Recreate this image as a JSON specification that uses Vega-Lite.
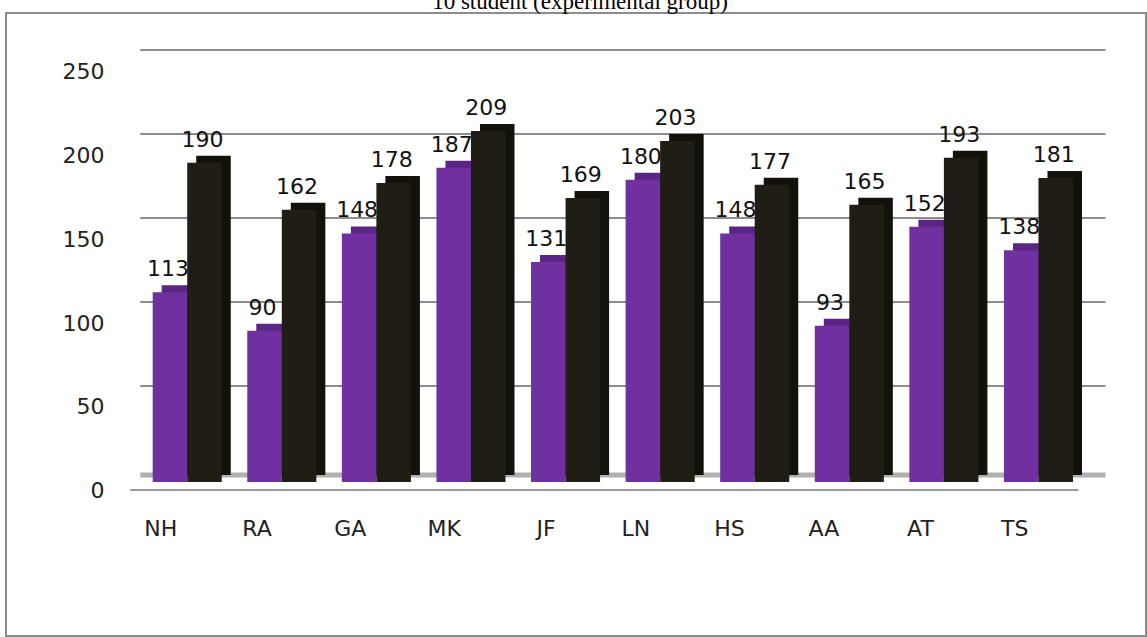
{
  "$schema": "https://vega.github.io/schema/vega-lite/v6.json",
  "autosize": {"type": "none"},
  "width": 1140,
  "height": 623,
  "padding": {"left": 6, "top": 13, "right": 1, "bottom": 1},
  "background": "white",
  "title": {"text": "10 student (experimental group)", "font": "Liberation Serif", "fontSize": 23, "fontWeight": "normal", "color": "#000000", "anchor": "middle", "offset": -1, "dx": 4},
  "config": {
    "view": {"stroke": "#8c8c8c", "strokeWidth": 2},
    "axis": {"grid": false, "ticks": false, "domain": false, "labelFont": "DejaVu Sans", "labelFontSize": 22, "labelColor": "#222222", "title": null}
  },
  "datasets": {
    "scores": [
      {"student": "NH", "group": "a", "score": 113}, {"student": "NH", "group": "b", "score": 190},
      {"student": "RA", "group": "a", "score": 90}, {"student": "RA", "group": "b", "score": 162},
      {"student": "GA", "group": "a", "score": 148}, {"student": "GA", "group": "b", "score": 178},
      {"student": "MK", "group": "a", "score": 187}, {"student": "MK", "group": "b", "score": 209},
      {"student": "JF", "group": "a", "score": 131}, {"student": "JF", "group": "b", "score": 169},
      {"student": "LN", "group": "a", "score": 180}, {"student": "LN", "group": "b", "score": 203},
      {"student": "HS", "group": "a", "score": 148}, {"student": "HS", "group": "b", "score": 177},
      {"student": "AA", "group": "a", "score": 93}, {"student": "AA", "group": "b", "score": 165},
      {"student": "AT", "group": "a", "score": 152}, {"student": "AT", "group": "b", "score": 193},
      {"student": "TS", "group": "a", "score": 138}, {"student": "TS", "group": "b", "score": 181}
    ],
    "grid": [{"t": 50}, {"t": 100}, {"t": 150}, {"t": 200}, {"t": 250}],
    "floor": [{"t": 0}]
  },
  "resolve": {"scale": {"xOffset": "independent"}},
  "layer": [
    {
      "data": {"name": "grid"},
      "mark": {"type": "rule", "color": "#8c8c8c", "strokeWidth": 2, "yOffset": -12, "xOffset": -47, "x2Offset": 67},
      "encoding": {
        "x": {"datum": "NH", "type": "nominal", "bandPosition": 0.5},
        "x2": {"datum": "TS"},
        "y": {"field": "t", "type": "quantitative"}
      }
    },
    {
      "data": {"name": "floor"},
      "mark": {"type": "rule", "color": "#b0b0b0", "strokeWidth": 5, "yOffset": -7, "xOffset": -47, "x2Offset": 67},
      "encoding": {
        "x": {"datum": "NH", "type": "nominal", "bandPosition": 0.5},
        "x2": {"datum": "TS"},
        "y": {"field": "t", "type": "quantitative"}
      }
    },
    {
      "data": {"name": "floor"},
      "mark": {"type": "rule", "color": "#9a9a9a", "strokeWidth": 2, "yOffset": 8, "xOffset": -57, "x2Offset": 40},
      "encoding": {
        "x": {"datum": "NH", "type": "nominal", "bandPosition": 0.5},
        "x2": {"datum": "TS"},
        "y": {"field": "t", "type": "quantitative"}
      }
    },
    {
      "data": {"name": "scores"},
      "mark": {"type": "bar", "yOffset": -7},
      "encoding": {
        "x": {"field": "student", "type": "nominal"},
        "xOffset": {"field": "group", "type": "nominal", "scale": {"domain": ["a", "b"], "range": [9, 78.05]}},
        "y": {"field": "score", "type": "quantitative"},
        "color": {"field": "group", "type": "nominal", "scale": {"domain": ["a", "b"], "range": ["#5a2585", "#12110a"]}, "legend": null}
      }
    },
    {
      "data": {"name": "scores"},
      "mark": {"type": "bar"},
      "encoding": {
        "x": {
          "field": "student", "type": "nominal",
          "scale": {"domain": ["NH", "RA", "GA", "MK", "JF", "LN", "HS", "AA", "AT", "TS"], "range": [146.7, 1067], "paddingInner": 0.27, "paddingOuter": 0},
          "axis": {"labelAngle": 0, "labelPadding": -118, "labelOffset": -10, "labelBaseline": "top"}
        },
        "xOffset": {"field": "group", "type": "nominal", "scale": {"domain": ["a", "b"]}},
        "y": {
          "field": "score", "type": "quantitative",
          "scale": {"domain": [-91.7, 279.2], "nice": false, "zero": false},
          "axis": {"values": [0, 50, 100, 150, 200, 250], "labelPadding": -98, "labelOffset": 9, "labelAlign": "right"}
        },
        "fill": {"field": "group", "type": "nominal", "scale": {"domain": ["a", "b"], "range": ["#7030A0", "#1F1D14"]}, "legend": null}
      }
    },
    {
      "data": {"name": "scores"},
      "mark": {"type": "text", "font": "DejaVu Sans", "fontSize": 22, "color": "#111111", "baseline": "alphabetic", "dy": -16, "dx": -2},
      "encoding": {
        "x": {"field": "student", "type": "nominal"},
        "xOffset": {"field": "group", "type": "nominal", "scale": {"domain": ["a", "b"]}},
        "y": {"field": "score", "type": "quantitative"},
        "text": {"field": "score", "type": "quantitative"}
      }
    }
  ]
}
